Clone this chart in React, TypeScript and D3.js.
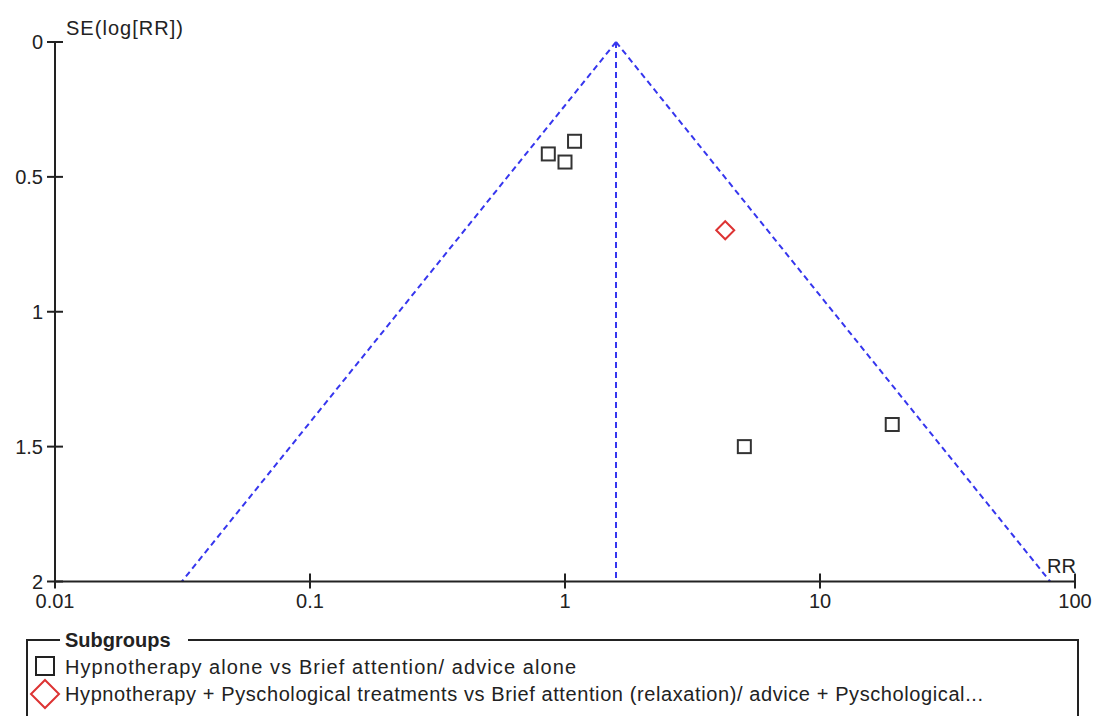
import React from "react";
import * as d3 from "d3";

const xTicks = [0.01, 0.1, 1, 10, 100];
const xTickLabels = ["0.01", "0.1", "1", "10", "100"];
const yTicks = [0, 0.5, 1, 1.5, 2];
const yTickLabels = ["0", "0.5", "1", "1.5", "2"];

const group1RR = [0.86, 1.0, 1.09, 5.05, 19.2];
const group1SE = [0.415, 0.445, 0.368, 1.5, 1.418];
const group2RR = [4.25];
const group2SE = [0.698];
const pooledRR = 1.585;
const maxSE = 2;

const legendTitle = "Subgroups";
const legendLabels = [
  "Hypnotherapy alone vs Brief attention/ advice alone",
  "Hypnotherapy + Pyschological treatments vs Brief attention (relaxation)/ advice + Pyschological...",
];
const legendWidths = [511, 918];

export default function App() {
  const W = 1095;
  const H = 716;
  const x = d3.scaleLog().domain([0.01, 100]).range([55, 1075]);
  const y = d3.scaleLinear().domain([0, 2]).range([42, 581.5]);
  const font = "'Liberation Sans', Arial, sans-serif";
  const textColor = "#222";
  const blue = "#3636ee";
  const red = "#dd3333";

  const z = 1.96;
  const lp = Math.log(pooledRR);
  const leftEnd = Math.exp(lp - z * maxSE);
  const rightEnd = Math.exp(lp + z * maxSE);

  const sq = 13;
  return (
    <div style={{ position: "absolute", left: 0, top: 0 }}>
      <svg width={W} height={H} style={{ display: "block", background: "#fff" }}>
        {/* funnel */}
        <g stroke={blue} strokeWidth={2} strokeDasharray="6,4" fill="none">
          <line x1={x(pooledRR)} y1={y(0)} x2={x(leftEnd)} y2={y(maxSE)} />
          <line x1={x(pooledRR)} y1={y(0)} x2={x(rightEnd)} y2={y(maxSE)} />
          <line x1={x(pooledRR)} y1={y(0)} x2={x(pooledRR)} y2={y(maxSE)} />
        </g>
        {/* axes */}
        <g stroke="#222" strokeWidth={2}>
          <line x1={x(0.01)} y1={y(0)} x2={x(0.01)} y2={y(2)} />
          <line x1={x(0.01)} y1={y(2)} x2={x(100)} y2={y(2)} />
          {yTicks.map((t) => (
            <line key={"yt" + t} x1={x(0.01) - 8} x2={x(0.01) + 8} y1={y(t)} y2={y(t)} />
          ))}
          {xTicks.map((t) => (
            <line key={"xt" + t} x1={x(t)} x2={x(t)} y1={y(2) - 8} y2={y(2) + 7} />
          ))}
        </g>
        <g fontFamily={font} fontSize={20} fill={textColor}>
          {yTicks.map((t, i) => (
            <text key={"yl" + t} x={43} y={y(t)} textAnchor="end" dominantBaseline="central">
              {yTickLabels[i]}
            </text>
          ))}
          {xTicks.map((t, i) => (
            <text key={"xl" + t} x={x(t)} y={608} textAnchor="middle">
              {xTickLabels[i]}
            </text>
          ))}
          <text x={66} y={35} textLength={117} lengthAdjust="spacing">SE(log[RR])</text>
          <text x={1076} y={573} textAnchor="end">RR</text>
        </g>
        {/* points */}
        <g fill="none" stroke="#333" strokeWidth={2}>
          {group1RR.map((r, i) => (
            <rect key={"g1" + i} x={x(r) - sq / 2} y={y(group1SE[i]) - sq / 2} width={sq} height={sq} />
          ))}
        </g>
        <g fill="none" stroke={red} strokeWidth={2}>
          {group2RR.map((r, i) => {
            const cx = x(r);
            const cy = y(group2SE[i]);
            const d = 9;
            return (
              <path key={"g2" + i} d={`M${cx},${cy - d}L${cx + d},${cy}L${cx},${cy + d}L${cx - d},${cy}Z`} />
            );
          })}
        </g>
        {/* legend */}
        <g stroke="#222" strokeWidth={2} fill="none">
          <path d={`M60,640 H27 V720`} />
          <path d={`M188,640 H1078 V720`} />
        </g>
        <g fontFamily={font} fontSize={20} fill={textColor}>
          <text x={65} y={647} fontWeight="bold">{legendTitle}</text>
          <text x={65} y={674} textLength={legendWidths[0]} lengthAdjust="spacing">{legendLabels[0]}</text>
          <text x={65} y={701} textLength={legendWidths[1]} lengthAdjust="spacing">{legendLabels[1]}</text>
        </g>
        <rect x={36} y={657} width={18} height={18} fill="none" stroke="#222" strokeWidth={2} />
        <path d="M45,680 L59,694 L45,708 L31,694 Z" fill="none" stroke={red} strokeWidth={2} />
      </svg>
    </div>
  );
}
